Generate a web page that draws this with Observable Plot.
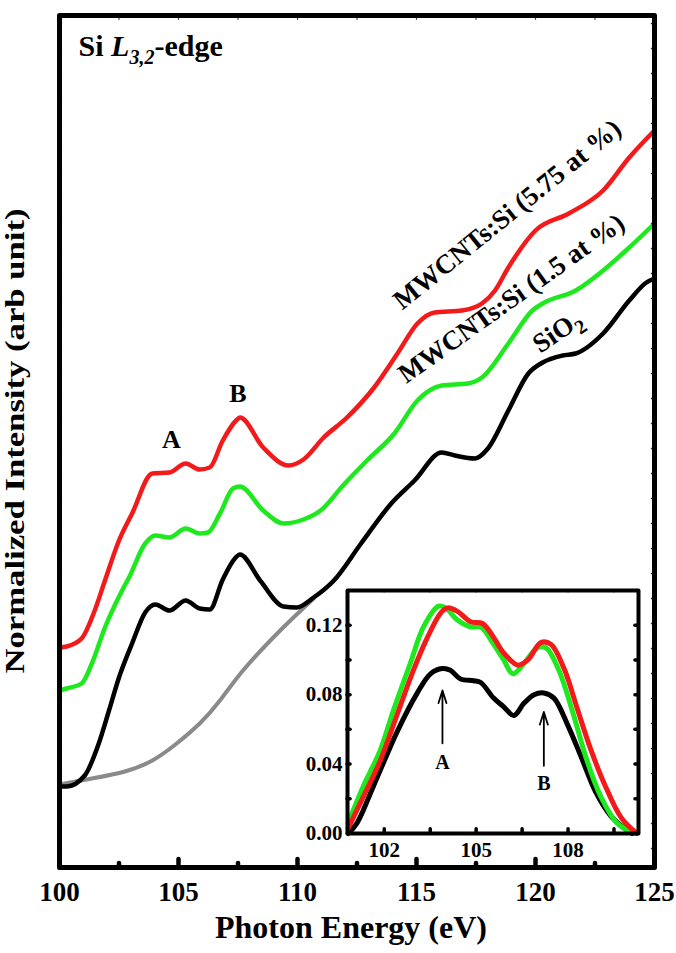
<!DOCTYPE html>
<html><head><meta charset="utf-8">
<script src="https://cdn.jsdelivr.net/npm/d3@7"></script>
<script src="https://cdn.jsdelivr.net/npm/@observablehq/plot@0.6"></script>
<style>
body{margin:0;background:#fff;}
#wrap{position:relative;width:676px;height:953px;font-family:"Liberation Serif","Times New Roman",serif;}
#main svg{display:block;}
#inset{position:absolute;left:287px;top:585px;}
#inset svg{display:block;}
</style></head><body>
<div id="wrap"><div id="main"></div><div id="inset"></div></div>
<script>
// ---------- main panel data (photon energy eV, intensity arb. units) ----------
const redE   = [100.0,100.3,100.93,101.48,101.91,102.5,103.05,103.9,104.62,105.3,105.89,106.31,106.86,107.42,107.58,108.56,109.62,110.25,111.1,112.08,113.22,114.2,115.04,115.76,116.91,117.75,118.3,118.86,120.0,121.4,122.84,123.94,125.0];
const redI   = [21.5,21.6,22.4,25.2,28.2,32.2,34.9,38.9,39.0,39.9,39.3,39.5,42.2,44.2,44.5,41.5,39.7,40.3,42.5,44.5,47.5,50.9,53.9,55.0,55.2,55.9,57.2,59.5,63.2,64.9,67.2,70.5,73.2];
const greenE = [100.0,100.3,100.93,101.36,101.91,102.63,102.92,103.6,104.03,104.62,105.3,105.89,106.23,106.74,107.29,107.58,108.56,109.41,110.25,110.97,111.95,112.92,114.07,115.04,116.06,117.16,117.75,118.86,119.87,120.3,121.69,122.84,123.94,125.0];
const greenI = [17.2,17.4,17.9,19.9,23.5,27.2,28.5,31.9,32.7,32.5,33.4,32.9,33.0,34.9,37.4,37.6,35.2,33.9,34.3,35.2,37.8,40.2,42.9,46.2,47.7,47.9,48.5,51.9,55.2,55.9,57.2,59.2,61.5,63.9];
const blackE = [100.0,100.3,101.06,101.65,102.08,102.5,103.05,103.6,104.03,104.62,105.3,105.89,106.31,106.86,107.37,107.58,108.43,109.41,109.96,110.68,111.53,112.67,113.94,114.92,116.06,116.61,117.46,118.0,118.86,119.7,120.3,121.14,121.69,122.84,123.94,124.66,125.0];
const blackI = [7.6,7.6,8.7,11.9,15.2,18.5,21.9,25.0,25.8,25.2,26.2,25.4,25.3,28.3,30.4,30.8,28.2,25.6,25.5,26.5,28.2,31.9,35.9,38.2,41.0,40.7,40.4,41.4,45.2,48.9,50.0,50.7,50.9,52.9,56.2,58.0,58.4];
const grayE  = [100.0,101.36,102.75,103.9,104.87,105.89,106.74,107.71,108.86,109.7,110.68];
const grayI  = [7.8,8.4,9.1,10.2,11.8,13.9,16.2,19.2,22.2,24.2,26.4];

// ---------- inset data (photon energy eV, intensity) ----------
const insRedE   = [100.82,101.31,101.87,102.43,102.95,103.41,103.84,104.07,104.39,104.82,105.21,105.57,105.9,106.36,106.69,107.11,107.44,107.87,108.3,108.75,109.2,109.74,110.25];
const insRedI   = [0.003,0.021,0.042,0.069,0.094,0.113,0.127,0.130,0.128,0.122,0.121,0.113,0.104,0.097,0.100,0.110,0.109,0.095,0.072,0.048,0.028,0.009,0.0];
const insGreenE = [100.82,101.31,101.87,102.3,102.85,103.28,103.77,104.0,104.39,104.82,105.15,105.57,105.9,106.2,106.56,107.0,107.28,107.7,108.15,108.6,109.05,109.6,110.2];
const insGreenI = [0.006,0.027,0.048,0.071,0.098,0.119,0.131,0.130,0.123,0.119,0.119,0.109,0.100,0.092,0.098,0.107,0.107,0.094,0.070,0.043,0.022,0.006,0.0];
const insBlackE = [100.82,101.11,101.64,102.43,103.08,103.51,103.9,104.16,104.49,104.92,105.15,105.57,105.9,106.23,106.56,106.89,107.21,107.54,108.0,108.43,108.9,109.4,109.84,110.1];
const insBlackI = [0.0,0.006,0.027,0.059,0.081,0.092,0.095,0.094,0.089,0.088,0.087,0.078,0.073,0.068,0.075,0.080,0.081,0.078,0.062,0.044,0.024,0.010,0.003,0.0];

// ---------- ticks & labels ----------
const mainTickLabels = [100,105,110,115,120,125];
const mainMajorTicks = [105,110,115,120];
const mainMinorTicks = [102.5,107.5,112.5,117.5,122.5];
const mainTopTicks   = [102.5,105,107.5,110,112.5,115,117.5,120,122.5];
const mainSideTicks  = d3.range(1.4, 84, 2.5);
const insetXTickLabels = [102,105,108];
const insetXTicks      = [102,103.5,105,106.5,108,109.5];
const insetYTickLabels = [0,0.04,0.08,0.12];
const insetYTicks      = [0.02,0.04,0.06,0.08,0.10,0.12];

const curveLabels = [
  {text:"MWCNTs:Si (5.75 at %)", e:118.81, v:64.8, angle:-39},
  {text:"MWCNTs:Si (1.5 at %)",  e:118.99, v:56.4, angle:-35.5},
  {text:"SiO2",                  e:120.93, v:53.1, angle:-34}
];
const peakLabels = [{text:"A", e:104.7, v:42.3},{text:"B", e:107.5, v:46.85}];
const edgeLabel = [{text:"Si L3,2-edge", e:100.8, v:81.66}];
const insetArrows = [{e:103.9, tail:0.052, tip:0.0824, label:"A", lv:0.041},{e:107.21, tail:0.039, tip:0.070, label:"B", lv:0.029}];
const xTitle = "Photon Energy (eV)";
const yTitle = "Normalized Intensity (arb unit)";

const zip = (E, I) => E.map((e, i) => ({e, v: I[i]}));
const serif = "'Liberation Serif','Times New Roman',serif";

const main = Plot.plot({
  width: 676, height: 953,
  marginLeft: 59, marginRight: 22, marginTop: 15, marginBottom: 86,
  x: {domain: [100, 125]},
  y: {domain: [-0.5, 84.7], axis: null},
  style: {fontFamily: serif, fontWeight: "bold", background: "transparent", color: "black"},
  marks: [
    Plot.line(zip(grayE, grayI),   {x: "e", y: "v", stroke: "#8a8a8a", strokeWidth: 4, curve: "natural"}),
    Plot.line(zip(blackE, blackI), {x: "e", y: "v", stroke: "#000000", strokeWidth: 4.5, curve: "monotone-x", strokeLinejoin: "round"}),
    Plot.line(zip(greenE, greenI), {x: "e", y: "v", stroke: "#1ee81e", strokeWidth: 4.5, curve: "monotone-x", strokeLinejoin: "round"}),
    Plot.line(zip(redE, redI),     {x: "e", y: "v", stroke: "#f21a1a", strokeWidth: 4.5, curve: "monotone-x", strokeLinejoin: "round"}),
    Plot.ruleX(mainMajorTicks, {x: d => d, y1: -0.5, y2: 0.3, strokeWidth: 4.5, strokeLinecap: "round"}),
    Plot.ruleX(mainMinorTicks, {x: d => d, y1: -0.5, y2: -0.1, strokeWidth: 4.5, strokeLinecap: "round"}),
    Plot.ruleX(mainTopTicks, {x: d => d, y1: 84.7, y2: 84.2, strokeWidth: 1.2, stroke: "#555"}),
    Plot.ruleY(mainSideTicks, {y: d => d, x1: 100, x2: 100.13, strokeWidth: 1.5, stroke: "#333"}),
    Plot.ruleY(mainSideTicks, {y: d => d, x1: 125, x2: 124.87, strokeWidth: 1.5, stroke: "#333"}),
    Plot.frame({stroke: "black", strokeWidth: 5, strokeLinejoin: "round"}),
    Plot.axisX(mainTickLabels, {tickSize: 0, tickPadding: 14, fontSize: 27, fontWeight: "bold", label: null}),
    Plot.text([xTitle], {text: d => d, frameAnchor: "bottom", dx: -6, dy: 70, fontSize: 32, fontWeight: "bold"}),
    Plot.text([yTitle], {text: d => d, frameAnchor: "left", dx: -44, dy: 232, rotate: -90, textAnchor: "start", fontSize: 27, fontWeight: "bold"}),
    Plot.text(peakLabels, {x: "e", y: "v", text: "text", fontSize: 26, fontWeight: "bold"}),
    Plot.text(edgeLabel, {x: "e", y: "v", text: "text", fontSize: 30, fontWeight: "bold", textAnchor: "start"}),
    ...curveLabels.map(d => Plot.text([d], {x: "e", y: "v", text: "text", rotate: d.angle, fontSize: 27, fontWeight: "bold"}))
  ]
});
document.getElementById("main").appendChild(main);

const inset = Plot.plot({
  width: 357, height: 278,
  marginLeft: 60, marginRight: 6, marginTop: 5, marginBottom: 30,
  x: {domain: [100.8, 110.3]},
  y: {domain: [0, 0.14]},
  style: {fontFamily: serif, fontWeight: "bold", background: "transparent", color: "black"},
  marks: [
    Plot.line(zip(insBlackE, insBlackI), {x: "e", y: "v", stroke: "#000000", strokeWidth: 5, curve: "catmull-rom", strokeLinejoin: "round"}),
    Plot.line(zip(insGreenE, insGreenI), {x: "e", y: "v", stroke: "#1ee81e", strokeWidth: 5, curve: "catmull-rom", strokeLinejoin: "round"}),
    Plot.line(zip(insRedE, insRedI),     {x: "e", y: "v", stroke: "#f21a1a", strokeWidth: 5, curve: "catmull-rom", strokeLinejoin: "round"}),
    Plot.ruleX(insetXTicks, {x: d => d, y1: 0, y2: 0.0025, strokeWidth: 3.5, strokeLinecap: "round"}),
    Plot.ruleX(insetXTicks, {x: d => d, y1: 0.14, y2: 0.1385, strokeWidth: 1.2, stroke: "#444"}),
    Plot.ruleY(insetYTicks, {y: d => d, x1: 100.8, x2: 100.9, strokeWidth: 3.5, strokeLinecap: "round"}),
    Plot.ruleY(insetYTicks, {y: d => d, x1: 110.3, x2: 110.2, strokeWidth: 3.5, strokeLinecap: "round"}),
    Plot.frame({stroke: "black", strokeWidth: 4, strokeLinejoin: "round"}),
    Plot.arrow(insetArrows, {x1: "e", y1: "tail", x2: "e", y2: "tip", strokeWidth: 1.8, headLength: 11, headAngle: 35}),
    Plot.text(insetArrows, {x: "e", y: "lv", text: "label", fontSize: 20, fontWeight: "bold"}),
    Plot.axisX(insetXTickLabels, {tickSize: 0, tickPadding: 9, fontSize: 21, fontWeight: "bold", label: null}),
    Plot.axisY(insetYTickLabels, {tickSize: 0, tickPadding: 5, fontSize: 21, fontWeight: "bold", tickFormat: d3.format(".2f"), label: null})
  ]
});
document.getElementById("inset").appendChild(inset);

// rich text: italics and subscripts
d3.select(main).selectAll("text").each(function() {
  const t = this.textContent;
  const el = d3.select(this);
  if (t === "Si L3,2-edge") {
    el.text(null);
    el.append("tspan").text("Si ");
    el.append("tspan").attr("font-style", "italic").text("L");
    el.append("tspan").attr("font-style", "italic").attr("font-size", 20).attr("dy", 8).text("3,2");
    el.append("tspan").attr("dy", -8).text("-edge");
  } else if (t === "SiO2") {
    el.text(null);
    el.append("tspan").text("SiO");
    el.append("tspan").attr("font-size", 20).attr("dy", 7).text("2");
  } else if (t === yTitle) {
    el.attr("textLength", 465).attr("lengthAdjust", "spacingAndGlyphs");
  }
});
</script>
</body></html>
